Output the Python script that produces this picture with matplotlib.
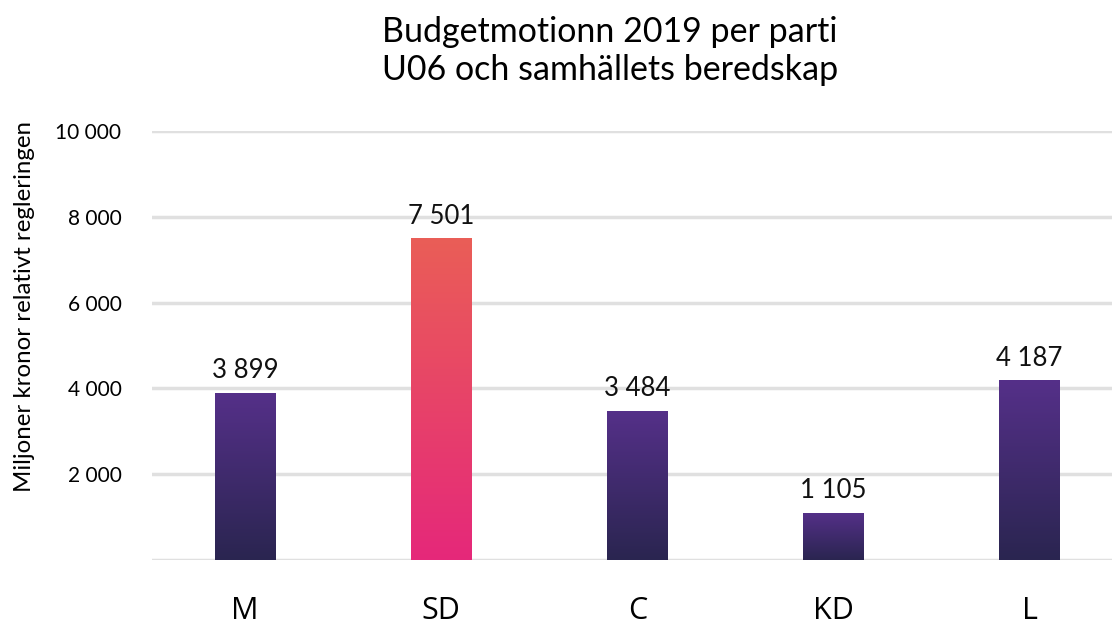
import matplotlib
matplotlib.use("Agg")
import matplotlib.pyplot as plt
import numpy as np
from matplotlib.colors import LinearSegmentedColormap

partier = ["M", "SD", "C", "KD", "L"]
belopp = [3899, 7501, 3484, 1105, 4187]
etiketter = ["3 899", "7 501", "3 484", "1 105", "4 187"]
y_ticks = [0, 2000, 4000, 6000, 8000, 10000]
y_ticklabels = ["", "2 000", "4 000", "6 000", "8 000", "10 000"]

# gradient per bar: bottom -> top
lila = LinearSegmentedColormap.from_list("lila", ["#2a2550", "#553089"])
rosa = LinearSegmentedColormap.from_list("rosa", ["#e5287a", "#ea5e57"])
bar_cmaps = [lila, rosa, lila, lila, lila]

plt.rcParams['font.family'] = ['Lato', 'DejaVu Sans']

fig = plt.figure(figsize=(11.15, 6.27), dpi=100)
ax = fig.add_axes([152 / 1115, 1 - 560 / 627, (1112 - 152) / 1115, (560 - 131) / 627])

x = np.arange(len(partier))
bars = ax.bar(x, belopp, width=0.31, color="none", zorder=3)

grad = np.linspace(0, 1, 256).reshape(-1, 1)
for b, cm in zip(bars, bar_cmaps):
    x0, w, h = b.get_x(), b.get_width(), b.get_height()
    im = ax.imshow(grad, cmap=cm, origin="lower", aspect="auto",
                   extent=[x0, x0 + w, 0, h], zorder=3)
    im.set_clip_path(b)

for xi, v, t in zip(x, belopp, etiketter):
    ax.text(xi, v + 220, t, ha="center", va="bottom", fontsize=18.5, color="#111111")

ax.set_xlim(-0.474, 4.42)
ax.set_ylim(0, 10000)
ax.set_yticks(y_ticks)
ax.set_yticklabels(y_ticklabels, fontsize=15)
ax.set_xticks(x)
ax.set_xticklabels(partier, fontsize=22, family=['Open Sans', 'DejaVu Sans'])
ax.tick_params(axis="both", length=0)
ax.tick_params(axis="x", pad=26)
ax.tick_params(axis="y", pad=22)
ax.yaxis.grid(True, color="#e0e0e0", linewidth=2.5, zorder=0)
ax.set_axisbelow(True)
for s in ax.spines.values():
    s.set_visible(False)

ax.set_ylabel("Miljoner kronor relativt regleringen", fontsize=17.3)
ax.yaxis.set_label_coords(-0.122, 0.59)

fig.text(0.547, 0.975, "Budgetmotionn 2019 per parti\nU06 och samhällets beredskap",
         ha="center", va="top", fontsize=24.5, linespacing=1.25)

fig.savefig("out.png", dpi=100)
